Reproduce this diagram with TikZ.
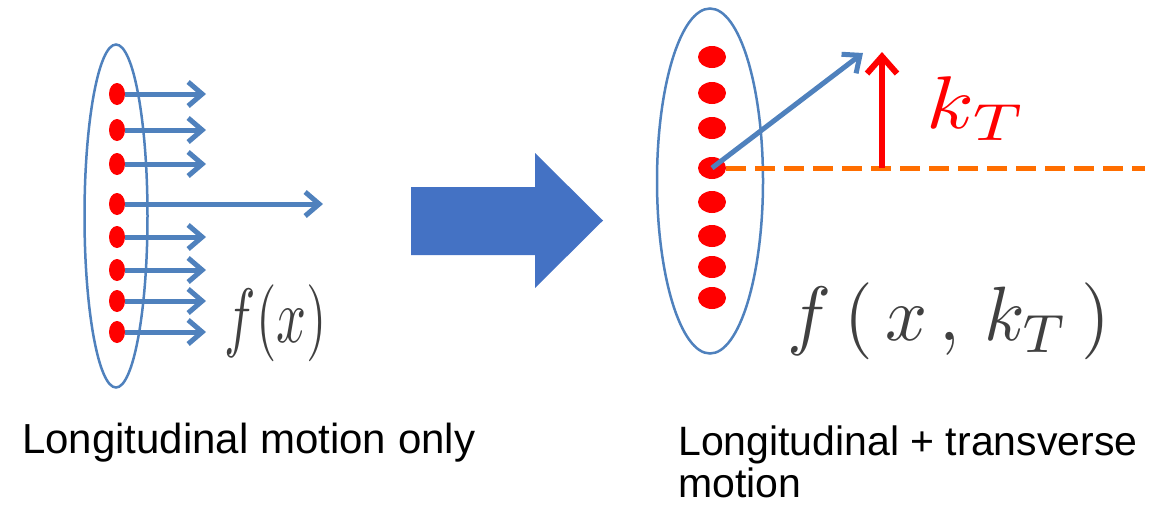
\documentclass[tikz,border=0pt]{standalone}
\usepackage{fontspec}
\setmainfont{Liberation Sans}
\usepackage{amsmath,graphicx}
\usetikzlibrary{arrows.meta,shapes.geometric}

\definecolor{ppblue}{RGB}{79,129,189}
\definecolor{bigblue}{RGB}{68,114,196}
\definecolor{ppred}{RGB}{255,0,0}
\definecolor{pporange}{RGB}{255,110,0}
\definecolor{mathgray}{RGB}{64,64,64}

\begin{document}
\begin{tikzpicture}[
  x=1pt, y=-1pt,
  shell/.style={draw=ppblue, line width=2.5pt, fill=white, ellipse, inner sep=0pt},
  ldot/.style={fill=ppred, ellipse, inner sep=0pt, minimum width=16pt, minimum height=22pt},
  rdot/.style={fill=ppred, ellipse, inner sep=0pt, minimum width=28pt, minimum height=22pt},
  barb/.style={-{Straight Barb[length=14pt, width=24pt]}, draw=ppblue, line width=5pt},
  kbarb/.style={-{Straight Barb[length=17pt, width=30pt]}, draw=ppred, line width=6pt},
  axis/.style={draw=pporange, line width=5pt, dash pattern=on 20pt off 9pt},
  mathlbl/.style={text=mathgray, inner sep=0pt},
  caption/.style={font=\fontsize{42}{42}\selectfont, inner sep=0pt, align=left}
]
\useasboundingbox (0,0) rectangle (1150,509);

% left: longitudinal only
\node[shell, minimum width=63pt, minimum height=343pt] (lshell) at (116,216) {};
\foreach \y/\xe [count=\i] in {94/206,130/206,164/206,204/323,237/206,270/206,301/206,332/206} {
  \node[ldot] (l\i) at (117,\y) {};
  \coordinate (lt\i) at (\xe,\y);
  \draw[barb] (l\i.east) -- (lt\i);
}
\node[mathlbl] (fx) at (276,323) {\resizebox*{102pt}{77pt}{$f(x)$}};

% big arrow
\fill[bigblue] (411,187) -- (535,187) -- (535,153) -- (603,220.5) -- (535,288) -- (535,255) -- (411,255) -- cycle;

% right: longitudinal + transverse
\node[shell, minimum width=106pt, minimum height=345pt] (rshell) at (710,181) {};
\foreach \y [count=\i] in {57,93,128,168,202,236,267,298} {
  \node[rdot] (r\i) at (712,\y) {};
}
\coordinate (axend) at (1145,168);
\coordinate (kbase) at (882,168);
\coordinate (ktip) at (882,52);
\coordinate (ptip) at (863,53);
\draw[axis] (r4.east) -- (axend);
\draw[barb] (r4.center) -- (ptip);
\draw[kbarb] (kbase) -- (ktip);
\node[text=ppred, inner sep=0pt] (kt) at (977,108.5) {\resizebox*{100pt}{63pt}{$k_T$}};
\node[mathlbl] (fxk) at (949,321.5) {\resizebox*{322pt}{77pt}{$f\,(\,x\,,\,k_T\,)$}};

% captions
\node[caption, anchor=base west] (lcap) at (22,453) {Longitudinal motion only};
\node[caption, anchor=base west, font=\fontsize{41}{42}\selectfont] (rcap) at (678,497) {Longitudinal + transverse\\motion};
\end{tikzpicture}
\end{document}
